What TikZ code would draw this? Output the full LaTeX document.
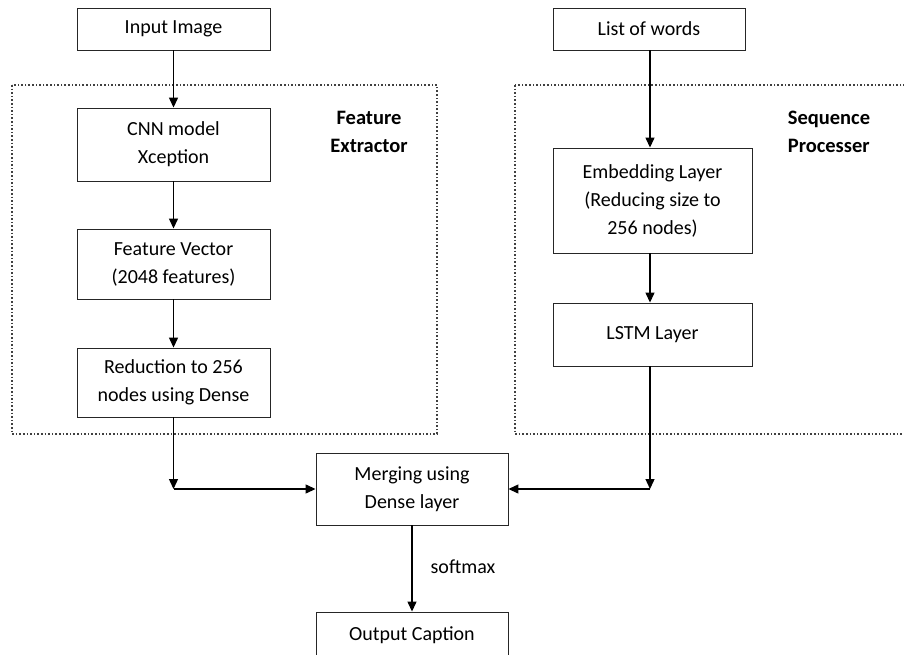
\documentclass[tikz,border=0pt]{standalone}
\usepackage{fontspec}
\setmainfont{Carlito}
\usetikzlibrary{arrows.meta,calc}
\begin{document}
\begin{tikzpicture}[x=1pt,y=-1pt,
  box/.style={draw=black!85,line width=0.9pt,fill=white,align=center,inner sep=0pt,font=\fontsize{20}{28}\selectfont},
  arr/.style={line width=1.3pt,-{Triangle[length=10,width=9]}},
  group/.style={draw=black!75,dotted,line width=1.6pt},
  lab/.style={font=\fontsize{20.5}{28}\selectfont\bfseries,align=center}]
\useasboundingbox (0,0) rectangle (904,654);
\fill[white] (0,0) rectangle (904,654);
\draw[group] (12,85) rectangle (437,434);
\draw[group] (515,85) rectangle (910,434);
\node[lab] (fe) at (369,132) {Feature\\Extractor};
\node[lab,align=left] (sp) at (829,132) {Sequence\\Processer};
\node[box,minimum width=193,minimum height=42] (inp) at (173.5,29) {Input Image};
\node[box,minimum width=192,minimum height=42] (low) at (649,29) {List of words};
\node[box,minimum width=193,minimum height=73] (cnn) at (173.5,144.5) {CNN model\\Xception};
\node[box,minimum width=193,minimum height=70] (fv) at (173.5,264) {Feature Vector\\(2048 features)};
\node[box,minimum width=193,minimum height=69] (red) at (173.5,382.5) {Reduction to 256\\nodes using Dense};
\node[box,minimum width=199,minimum height=105] (emb) at (652.5,200.5) {Embedding Layer\\(Reducing size to\\256 nodes)};
\node[box,minimum width=199,minimum height=63] (lstm) at (652.5,334.5) {LSTM Layer};
\node[box,minimum width=192,minimum height=72] (mrg) at (412,489) {Merging using\\Dense layer};
\node[box,minimum width=192,minimum height=46] (out) at (412,635) {Output Caption};
\node[font=\fontsize{20}{22}\selectfont] (sm) at (463,567) {softmax};
\draw[arr] (inp) -- (cnn);
\draw[arr] (cnn) -- (fv);
\draw[arr] (fv) -- (red);
\draw[arr] (low.south -| 650,0) -- (emb.north -| 650,0);
\draw[arr] (emb.south -| 650,0) -- (lstm.north -| 650,0);
\coordinate (lj) at (red.south |- mrg.west);
\coordinate (rj) at (650,489);
\draw[arr] (red.south) -- (lj);
\draw[arr] (lj) -- (mrg.west);
\draw[arr] (lstm.south -| rj) -- (rj);
\draw[arr] (rj) -- (mrg.east);
\draw[arr] (mrg) -- (out);
\end{tikzpicture}
\end{document}
